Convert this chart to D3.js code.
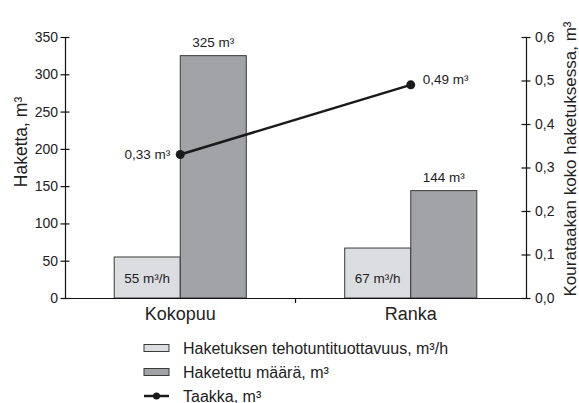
<!DOCTYPE html>
<html><head><meta charset="utf-8">
<script src="https://cdn.jsdelivr.net/npm/d3@7/dist/d3.min.js"></script>
<style>
body{margin:0;background:#fff;}
svg{display:block;font-family:"Liberation Sans",Arial,Helvetica,sans-serif;}
</style></head>
<body><svg id="c" width="579" height="403"></svg>
<script>
const categories = ["Kokopuu", "Ranka"];
const seriesNames = ["Haketuksen tehotuntituottavuus, m³/h", "Haketettu määrä, m³", "Taakka, m³"];
const productivity = [55, 67];
const volume = [325, 144];
const load = [0.33, 0.49];
const productivityLabels = ["55 m³/h", "67 m³/h"];
const volumeLabels = ["325 m³", "144 m³"];
const loadLabels = ["0,33 m³", "0,49 m³"];
const leftTicks = [0, 50, 100, 150, 200, 250, 300, 350];
const rightTicks = [0, 0.1, 0.2, 0.3, 0.4, 0.5, 0.6];

const svg = d3.select("#c");
const L = 65, R = 526, T = 37, B = 298;
const txt = "#222";
const fillLight = "#dcdde0", fillDark = "#a2a3a7", stroke = "#3a3a3a";

const x = d3.scaleBand().domain(categories).range([L, R]).paddingInner(0.427).paddingOuter(0.2135);
const xs = d3.scaleBand().domain([0, 1]).range([0, x.bandwidth()]);
const y = d3.scaleLinear().domain([0, 350]).range([B, T]);
const y2 = d3.scaleLinear().domain([0, 0.6]).range([B, T]);

// bars
const bars = [productivity, volume];
const fills = [fillLight, fillDark];
bars.forEach((vals, s) => {
  svg.append("g").selectAll("rect").data(vals).join("rect")
    .attr("x", (d, i) => x(categories[i]) + xs(s))
    .attr("y", d => y(d))
    .attr("width", xs.bandwidth())
    .attr("height", d => B - y(d))
    .attr("fill", fills[s]).attr("stroke", stroke).attr("stroke-width", 1);
});

// bar labels
svg.append("g").selectAll("text").data(productivity).join("text")
  .attr("x", (d, i) => x(categories[i]) + xs(0) + xs.bandwidth() / 2)
  .attr("y", (d, i) => y(0) - 15)
  .attr("text-anchor", "middle").attr("font-size", 13.5).attr("fill", txt)
  .text((d, i) => productivityLabels[i]);
svg.append("g").selectAll("text").data(volume).join("text")
  .attr("x", (d, i) => x(categories[i]) + xs(1) + xs.bandwidth() / 2)
  .attr("y", d => y(d) - 9)
  .attr("text-anchor", "middle").attr("font-size", 13.5).attr("fill", txt)
  .text((d, i) => volumeLabels[i]);

// axes
const axL = d3.axisLeft(y).tickValues(leftTicks).tickSize(0).tickPadding(7).tickFormat(d3.format("d"));
const gL = svg.append("g").attr("transform", `translate(${L},0)`).call(axL);
const axR = d3.axisRight(y2).tickValues(rightTicks).tickSize(0).tickPadding(9).tickFormat(d => d.toFixed(1).replace(".", ","));
const gR = svg.append("g").attr("transform", `translate(${R},0)`).call(axR);
[gL, gR].forEach(g => {
  g.select(".domain").attr("stroke", "#111").attr("stroke-width", 1.2);
  g.selectAll(".tick text").attr("font-size", 14).attr("fill", txt);
  g.selectAll(".tick").append("line").attr("x1", -4.5).attr("x2", 4.5).attr("stroke", "#111").attr("stroke-width", 1.2);
  g.attr("font-family", null);
});
const axB = d3.axisBottom(x).tickSize(0).tickPadding(9);
const gB = svg.append("g").attr("transform", `translate(0,${B})`).call(axB);
gB.attr("font-family", null);
gB.select(".domain").attr("stroke", "#111").attr("stroke-width", 1.2);
gB.selectAll(".tick text").attr("font-size", 18).attr("fill", txt);
// separator tick between categories
const sep = (x(categories[0]) + x.bandwidth() + x(categories[1])) / 2;
gB.append("line").attr("x1", sep).attr("x2", sep)
  .attr("y1", 0).attr("y2", 5).attr("stroke", "#111").attr("stroke-width", 1.2);

// axis titles
svg.append("text").attr("transform", "translate(27,142) rotate(-90)")
  .attr("text-anchor", "middle").attr("font-size", 17.5).attr("fill", txt).text("Haketta, m³");
svg.append("text").attr("transform", "translate(576,159) rotate(-90)")
  .attr("text-anchor", "middle").attr("font-size", 17).attr("fill", txt).text("Kourataakan koko haketuksessa, m³");

// line series
const cx = (d, i) => x(categories[i]) + x.bandwidth() / 2;
const line = d3.line().x((d, i) => cx(d, i)).y(d => y2(d));
svg.append("path").datum(load).attr("d", line).attr("fill", "none").attr("stroke", "#1a1a1a").attr("stroke-width", 2.5);
svg.append("g").selectAll("circle").data(load).join("circle")
  .attr("cx", cx).attr("cy", d => y2(d)).attr("r", 4.5).attr("fill", "#1a1a1a");
svg.append("text").attr("x", cx(load[0], 0) - 10).attr("y", y2(load[0]) + 5)
  .attr("text-anchor", "end").attr("font-size", 13.5).attr("fill", txt).text(loadLabels[0]);
svg.append("text").attr("x", cx(load[1], 1) + 12).attr("y", y2(load[1]) - 1)
  .attr("text-anchor", "start").attr("font-size", 13.5).attr("fill", txt).text(loadLabels[1]);

// legend
const lg = svg.append("g").attr("transform", "translate(144,0)");
const ly = [348, 372, 396];
[0, 1].forEach(i => {
  lg.append("rect").attr("x", 0).attr("y", ly[i] - 3.5).attr("width", 25).attr("height", 7)
    .attr("fill", fills[i]).attr("stroke", stroke).attr("stroke-width", 1);
});
lg.append("line").attr("x1", 0).attr("x2", 25).attr("y1", ly[2]).attr("y2", ly[2]).attr("stroke", "#1a1a1a").attr("stroke-width", 2.5);
lg.append("circle").attr("cx", 12.5).attr("cy", ly[2]).attr("r", 3.5).attr("fill", "#1a1a1a");
seriesNames.forEach((n, i) => {
  lg.append("text").attr("x", 39).attr("y", ly[i] + 5.5).attr("font-size", 16).attr("fill", txt).text(n);
});
</script></body></html>
